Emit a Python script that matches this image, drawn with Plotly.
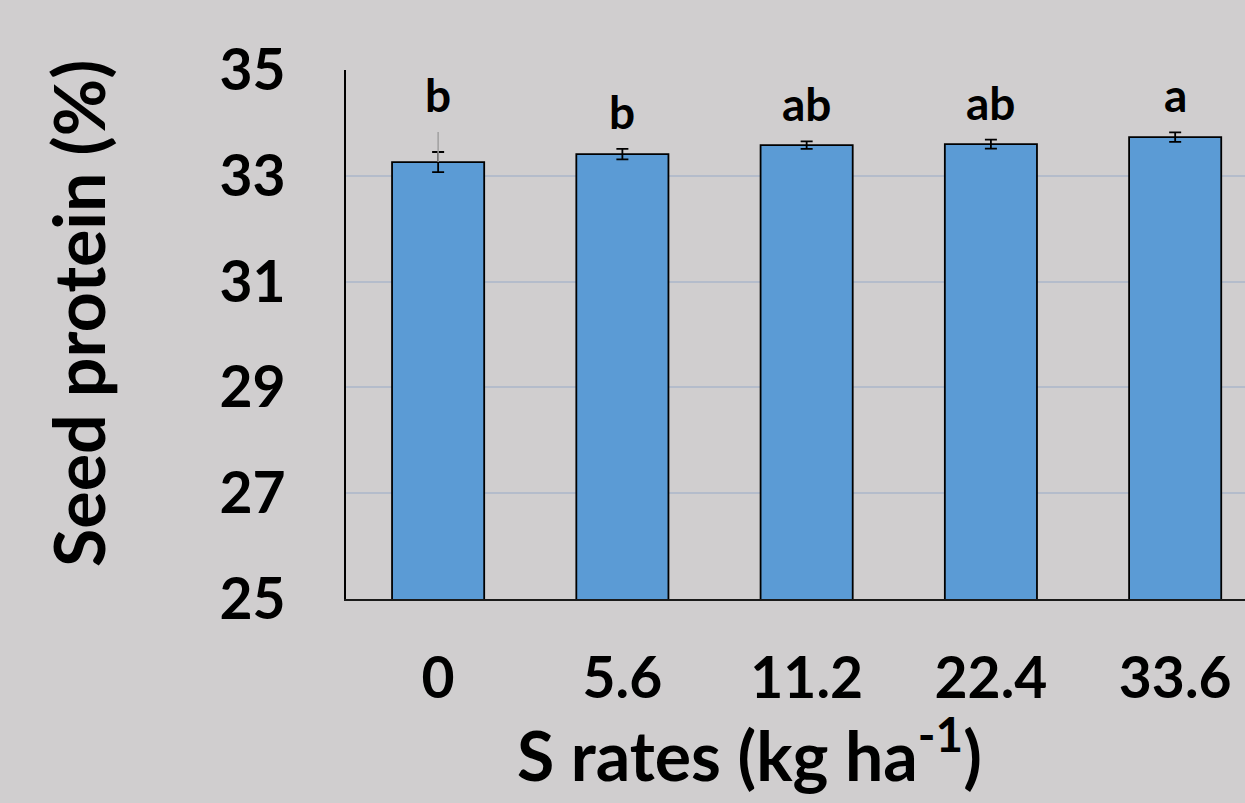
import plotly.graph_objects as go

categories = ["0", "5.6", "11.2", "22.4", "33.6"]
protein = [33.26, 33.41, 33.58, 33.60, 33.73]
err = [0.19, 0.10, 0.07, 0.085, 0.09]
extra_up = [0.57, 0, 0, 0, 0]   # grey upper whisker on the 0 rate
letters = ["b", "b", "ab", "ab", "a"]
y_ticks = [25, 27, 29, 31, 33, 35]

BG = "#d0cecf"
FONT = "Lato"

fig = go.Figure()
fig.add_trace(go.Bar(
    x=categories, y=protein,
    marker=dict(color="#5b9bd5", line=dict(color="black", width=1.8)),
    error_y=dict(type="data", array=err, color="black", thickness=1.8, width=6),
    showlegend=False,
))
fig.add_trace(go.Scatter(
    x=categories[:1], y=protein[:1], mode="markers",
    marker=dict(size=1, color="rgba(0,0,0,0)"),
    error_y=dict(type="data", array=extra_up[:1], arrayminus=[0], color="#a0a0a0",
                 thickness=1.5, width=0),
    showlegend=False, hoverinfo="skip",
))

for i, (v, e, x_up, lab) in enumerate(zip(protein, err, extra_up, letters)):
    top = v + max(e, x_up)
    fig.add_annotation(x=i, y=top, text=lab, showarrow=False, xanchor="center",
                       yanchor="bottom", yshift=8,
                       font=dict(family=FONT, size=46, color="black", weight="bold"))

fig.add_annotation(xref="paper", yref="paper", x=-0.298, y=0.539, textangle=-90,
                   xanchor="center", yanchor="middle",
                   text="Seed protein (%)", showarrow=False,
                   font=dict(family=FONT, size=70, color="black", weight="bold"))
fig.add_annotation(xref="paper", yref="paper", x=0.449, y=-0.285,
                   xanchor="center", yanchor="middle",
                   text="S rates (kg ha<sup>-1</sup>)", showarrow=False,
                   font=dict(family=FONT, size=68, color="black", weight="bold"))

fig.update_layout(
    width=1245, height=803,
    margin=dict(l=346, r=0, t=70, b=204),
    paper_bgcolor=BG, plot_bgcolor=BG,
    bargap=0.5,
    font=dict(family=FONT, color="black", weight="bold"),
)
fig.update_xaxes(
    type="category", range=[-0.5, 4.379],
    showline=True, linecolor="#1a1a1a", linewidth=2,
    showgrid=False, ticks="", ticklabelstandoff=29,
    tickfont=dict(family=FONT, size=57, color="black", weight="bold"),
)
fig.update_yaxes(
    range=[25, 35], tickvals=y_ticks,
    showline=True, linecolor="black", linewidth=2,
    showgrid=True, gridcolor="#b4bccb", gridwidth=1.5,
    zeroline=False, ticks="", ticklabelstandoff=47,
    tickfont=dict(family=FONT, size=57, color="black", weight="bold"),
)

fig.write_html("out.html", config={"displayModeBar": False},
               post_script="document.body.style.margin='0';document.body.style.overflow='hidden';")
